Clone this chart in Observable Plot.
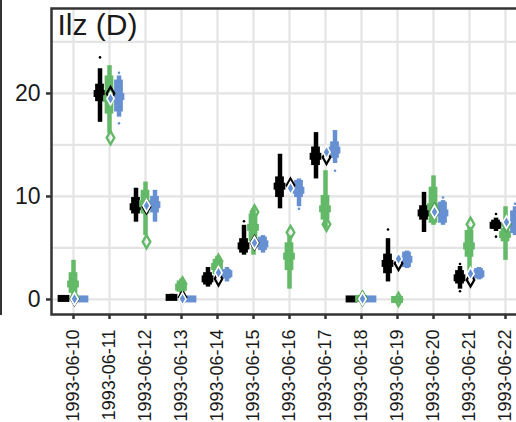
<!DOCTYPE html>
<html>
<head>
<meta charset="utf-8">
<script src="https://cdn.jsdelivr.net/npm/d3@7"></script>
<script src="https://cdn.jsdelivr.net/npm/@observablehq/plot@0.6"></script>
<style>
  html, body { margin: 0; padding: 0; background: #fff; overflow: hidden; width: 516px; height: 422px; }
  #wrap { position: relative; width: 530px; }
  #chart svg { max-width: none !important; display: block; }
  #edge { position: absolute; left: 0; top: 0; width: 0; height: 315px; border-left: 2px solid #333; z-index: 2; }
</style>
</head>
<body>
<div id="wrap"><div id="edge"></div><div id="chart"></div></div>
<script>
// ---- data ----
const dates = ["1993-06-10","1993-06-11","1993-06-12","1993-06-13","1993-06-14","1993-06-15","1993-06-16",
               "1993-06-17","1993-06-18","1993-06-19","1993-06-20","1993-06-21","1993-06-22"];
const title = "Ilz (D)";
const yTicks = [0, 10, 20];
const yGrid = [0, 5, 10, 15, 20, 25];

const seriesNames = ["black", "green", "blue"];
const seriesColors = ["#000000", "#63b967", "#6690d2"];

// whisker low, box low, median, box high, whisker high, diamond
const blackLo   = [0,   17.2, 7.5, 0,   1.2, 4.3, 8.8,  11.7, 0,   1.7, 6.5, 1.0, 6.6];
const blackQ1   = [0,   19.2, 8.3, 0.1, 1.4, 4.5, 9.9,  13.0, 0,   2.5, 7.7, 1.5, 6.8];
const blackMed  = [0.1, 20.0, 9.0, 0.2, 2.0, 5.2, 11.0, 13.9, 0.05,3.5, 8.4, 2.1, 7.2];
const blackQ3   = [0.2, 20.9, 9.9, 0.4, 2.6, 5.9, 11.9, 14.8, 0.15,4.4, 9.1, 2.8, 7.7];
const blackHi   = [0.3, 22.4, 10.8,0.5, 3.1, 7.2, 14.1, 16.2, 0.25,5.9, 10.4,3.2, 7.9];
const blackPt   = [0.1, 20.0, 9.0, 0.2, 2.0, 5.5, 11.1, 13.8, 0.1, 3.5, 8.6, 1.9, 7.3];

const greenLo   = [0,   16.1, 6.2, 0.5, 2.2, 4.3, 1.0, 6.9,  0,   0, 7.2, 2.7, 3.8];
const greenQ1   = [0.6, 18.0, 8.3, 0.7, 2.4, 5.6, 2.8, 7.7,  0,   0, 7.4, 4.1, 5.6];
const greenMed  = [1.5, 19.5, 9.3, 1.2, 3.2, 7.0, 4.2, 8.8,  0.1, 0, 9.0, 5.2, 6.3];
const greenQ3   = [2.6, 21.7, 10.6,1.8, 3.9, 8.3, 5.5, 10.1, 0.2, 0, 10.9,6.7, 6.9];
const greenHi   = [3.8, 22.7, 11.4,2.0, 4.2, 8.8, 6.2, 12.5, 0.2, 0, 12.0,7.0, 9.0];
const greenPt   = [0.2, 15.7, 5.6, 1.5, 3.7, 8.5, 6.5, 7.3,  0.1, 0, 8.6, 7.3, 7.3];

const blueLo    = [0,    17.7, 7.5, 0,    1.7, 4.5, 9.0,  13.2, 0,    3.0, 7.2, 1.9, 6.2];
const blueQ1    = [0,    18.2, 8.4, 0,    2.0, 4.75,9.9,  13.7, 0,    3.1, 7.4, 2.0, 6.4];
const blueMed   = [0.05, 19.7, 9.2, 0.05, 2.5, 5.4, 10.6, 14.5, 0.05, 3.9, 8.4, 2.5, 7.4];
const blueQ3    = [0.15, 21.3, 10.0,0.15, 2.9, 6.05,11.55,15.3, 0.15, 4.6, 9.45,3.0, 8.6];
const blueHi    = [0.3,  21.7, 10.6,0.3,  3.1, 6.2, 11.7, 16.4, 0.3,  4.7, 9.6, 3.1, 9.0];
const bluePt    = [0.05, 19.5, 9.1, 0.05, 2.6, 5.5, 10.8, 14.3, 0.05, 3.95,8.5, 2.5, 7.5];

// outliers: [date index, value]
const blackOut = [[1, 23.5], [5, 7.6], [9, 6.8], [11, 3.45], [11, 0.8], [12, 8.3], [12, 6.1]];
const greenOut = [];
const blueOut  = [[1, 22.0], [1, 17.1], [6, 8.8], [7, 12.5], [10, 9.9], [12, 9.3]];

// ---- build tables ----
const stats = [
  [blackLo, blackQ1, blackMed, blackQ3, blackHi, blackPt, blackOut],
  [greenLo, greenQ1, greenMed, greenQ3, greenHi, greenPt, greenOut],
  [blueLo,  blueQ1,  blueMed,  blueQ3,  blueHi,  bluePt,  blueOut]
];
const tables = stats.map(([lo, q1, med, q3, hi, pt, out], s) => ({
  color: seriesColors[s],
  rows: dates.map((d, i) => ({date: d, lo: lo[i], q1: q1[i], med: med[i], q3: q3[i], hi: hi[i], pt: pt[i]})),
  out: out.map(([i, v]) => ({date: dates[i], v}))
}));

// ---- layout ----
const W = 526, marginLeft = 51, marginRight = 0;
const padOuter = 0.052;
const step = (W - marginLeft - marginRight) / (dates.length + 2 * padOuter);
const offsets = [-9.5, 0, 9.5];
const boxW = 9, medW = 12;
const boxInset = (step - boxW) / 2, medInset = (step - medW) / 2;

const marks = [
  Plot.ruleY(yGrid, {stroke: "#e4e4e4", strokeWidth: 2.2}),
  Plot.ruleX(dates, {x: d => d, stroke: "#e4e4e4", strokeWidth: 2.2}),
];
tables.forEach((t, s) => {
  const dx = offsets[s];
  marks.push(
    Plot.ruleX(t.rows, {x: "date", y1: "lo", y2: "hi", stroke: t.color, strokeWidth: 4.5, dx}),
    Plot.rectY(t.rows, {x: "date", y1: "q1", y2: "q3", fill: t.color, insetLeft: boxInset, insetRight: boxInset, dx}),
    Plot.tickY(t.rows, {x: "date", y: "med", stroke: t.color, strokeWidth: 7, insetLeft: medInset, insetRight: medInset, dx}),
    Plot.dot(t.out, {x: "date", y: "v", r: 1.3, fill: t.color, dx})
  );
});
marks.push(
  Plot.dot(tables[0].rows, {x: "date", y: "pt", symbol: "diamond", r: 4, fill: "none", stroke: seriesColors[0], strokeWidth: 2.2, dx: 1}),
  Plot.dot(tables[1].rows, {x: "date", y: "pt", symbol: "diamond", r: 4, fill: "none", stroke: seriesColors[1], strokeWidth: 2.4, dx: 1}),
  Plot.dot(tables[2].rows, {x: "date", y: "pt", symbol: "diamond", r: 3.8, fill: seriesColors[2], stroke: "#ffffff", strokeWidth: 1.6, dx: 1}),
  Plot.frame({stroke: "#333", strokeWidth: 2.5}),
  Plot.axisY({ticks: yTicks, tickSize: 5, tickPadding: 6, stroke: "#333", strokeWidth: 2.5, fill: "#1a1a1a", fontSize: 23}),
  Plot.axisX({tickRotate: -90, tickSize: 5, tickPadding: 10, stroke: "#333", strokeWidth: 2.5, fill: "#1a1a1a", fontSize: 18}),
  Plot.text([title], {frameAnchor: "top-left", dx: 6, dy: 5, lineAnchor: "top", fontSize: 30, fill: "#1a1a1a"})
);

const chart = Plot.plot({
  width: W, height: 422,
  marginLeft, marginRight, marginTop: 8, marginBottom: 108,
  style: {fontFamily: "'Liberation Sans', Arial, sans-serif", background: "#fff", maxWidth: "none"},
  x: {type: "band", domain: dates, paddingInner: 0, paddingOuter: padOuter, align: 0.5, label: null},
  y: {domain: [-1.46, 28.25], label: null},
  marks
});
document.getElementById("chart").appendChild(chart);
</script>
</body>
</html>
